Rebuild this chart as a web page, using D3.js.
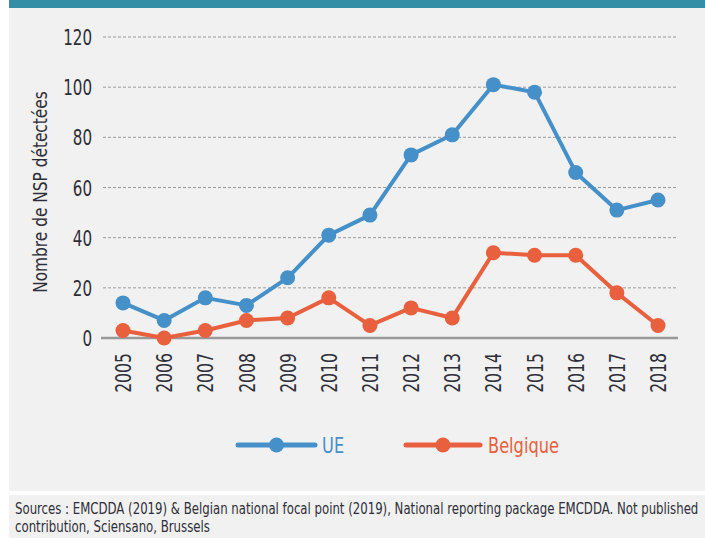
<!DOCTYPE html>
<html>
<head>
<meta charset="utf-8">
<script src="https://cdn.jsdelivr.net/npm/d3@7"></script>
<style>
  html, body { margin: 0; padding: 0; background: #ffffff; }
  svg { display: block; }
  text { font-family: "DejaVu Sans Condensed", "DejaVu Sans", sans-serif; font-stretch: condensed; }
</style>
</head>
<body>
<svg id="chart" width="705" height="538"></svg>
<script>
const years = ["2005","2006","2007","2008","2009","2010","2011","2012","2013","2014","2015","2016","2017","2018"];
const ueValues = [14, 7, 16, 13, 24, 41, 49, 73, 81, 101, 98, 66, 51, 55];
const belgiqueValues = [3, 0, 3, 7, 8, 16, 5, 12, 8, 34, 33, 33, 18, 5];
const yTicks = [0, 20, 40, 60, 80, 100, 120];
const seriesNames = ["UE", "Belgique"];
const yTitle = "Nombre de NSP détectées";
const sourceLines = [
  "Sources : EMCDDA (2019) & Belgian national focal point (2019), National reporting package EMCDDA. Not published",
  "contribution, Sciensano, Brussels"
];

const colors = { "UE": "#4690c9", "Belgique": "#e8603d" };
const series = [
  { name: seriesNames[0], values: ueValues },
  { name: seriesNames[1], values: belgiqueValues }
];

const svg = d3.select("#chart");

// backgrounds
svg.append("rect").attr("x", 9).attr("y", 0).attr("width", 696).attr("height", 491).attr("fill", "#f1f1f1");
svg.append("rect").attr("x", 9).attr("y", 0).attr("width", 696).attr("height", 8).attr("fill", "#348fa6");
svg.append("rect").attr("x", 9).attr("y", 495).attr("width", 696).attr("height", 43).attr("fill", "#f1f1f1");

const x = d3.scalePoint().domain(years).range([123, 658]);
const y = d3.scaleLinear().domain([0, 120]).range([338, 37]);

// gridlines
svg.append("g").selectAll("line").data(yTicks.filter(d => d > 0)).join("line")
  .attr("x1", 103).attr("x2", 678)
  .attr("y1", d => y(d)).attr("y2", d => y(d))
  .attr("stroke", "#9a9a9a").attr("stroke-width", 1).attr("stroke-dasharray", "3,2");

// y axis labels
const yAxis = d3.axisLeft(y).tickValues(yTicks).tickSize(0).tickPadding(0);
const gy = svg.append("g").attr("transform", "translate(92,0)").call(yAxis);
gy.select(".domain").remove();
gy.selectAll("text").attr("font-size", 21).attr("fill", "#2e2e38").attr("dy", "0.36em")
  .attr("transform", "scale(0.8,1)")
  .style("font-family", "'DejaVu Sans Condensed', sans-serif");

// x axis baseline
svg.append("line").attr("x1", 101).attr("x2", 678).attr("y1", y(0)).attr("y2", y(0))
  .attr("stroke", "#999").attr("stroke-width", 2.5);

// x axis labels
const xAxis = d3.axisBottom(x).tickSize(0).tickPadding(0);
const gx = svg.append("g").attr("transform", "translate(0,353)").call(xAxis);
gx.select(".domain").remove();
gx.selectAll("text")
  .attr("font-size", 21).attr("fill", "#2e2e38")
  .attr("text-anchor", "end")
  .attr("transform", "rotate(-90) scale(0.83,1)")
  .attr("x", 0).attr("y", 0).attr("dy", "0.36em")
  .style("font-family", "'DejaVu Sans Condensed', sans-serif");

// y title
svg.append("text")
  .attr("transform", "translate(47,192) rotate(-90) scale(0.9,1)")
  .attr("text-anchor", "middle")
  .attr("font-size", 19).attr("fill", "#2e2e38")
  .text(yTitle);

// lines and points
const line = d3.line().x((d, i) => x(years[i])).y(d => y(d));
series.slice().reverse().forEach(s => {
  const g = svg.append("g");
  g.append("path").datum(s.values).attr("d", line)
    .attr("fill", "none").attr("stroke", colors[s.name]).attr("stroke-width", 4)
    .attr("stroke-linejoin", "round");
  g.selectAll("circle").data(s.values).join("circle")
    .attr("cx", (d, i) => x(years[i])).attr("cy", d => y(d)).attr("r", 7.5)
    .attr("fill", colors[s.name]);
});

// legend
const legendItems = [
  { name: seriesNames[0], x1: 238, x2: 315, tx: 322 },
  { name: seriesNames[1], x1: 406, x2: 480, tx: 488 }
];
const lg = svg.append("g");
legendItems.forEach(it => {
  lg.append("line").attr("x1", it.x1).attr("x2", it.x2).attr("y1", 445).attr("y2", 445)
    .attr("stroke", colors[it.name]).attr("stroke-width", 5).attr("stroke-linecap", "round");
  lg.append("circle").attr("cx", (it.x1 + it.x2) / 2).attr("cy", 445).attr("r", 7.5).attr("fill", colors[it.name]);
  lg.append("text").attr("transform", `translate(${it.tx},445) scale(0.82,1)`).attr("dy", "0.36em")
    .attr("font-size", 22).attr("fill", colors[it.name]).text(it.name);
});

// sources
const s1 = svg.append("text").attr("font-size", 15).attr("fill", "#2e2e38").text(sourceLines[0]);
const len = s1.node().getComputedTextLength();
const sc = 684 / len;
s1.attr("transform", `translate(15,514) scale(${sc},1)`);
svg.append("text").attr("font-size", 15).attr("fill", "#2e2e38")
  .attr("transform", `translate(15,532) scale(${sc},1)`)
  .text(sourceLines[1]);
</script>
</body>
</html>
